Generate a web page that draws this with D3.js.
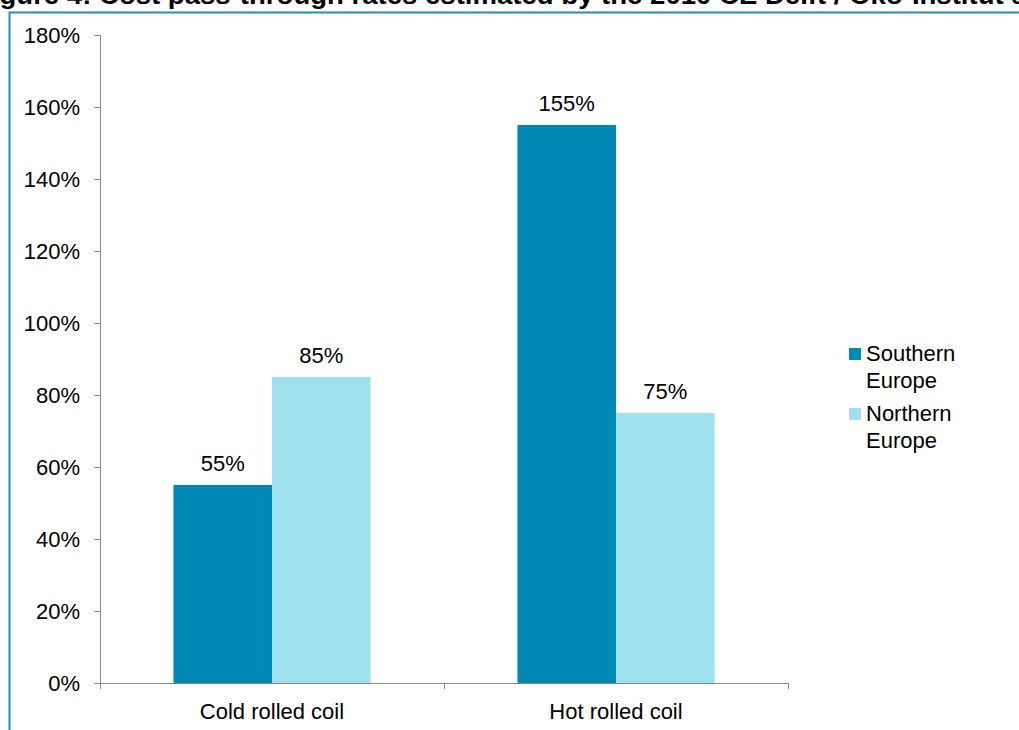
<!DOCTYPE html>
<html>
<head>
<meta charset="utf-8">
<script src="https://cdn.jsdelivr.net/npm/d3@7"></script>
<style>
  html, body { margin: 0; padding: 0; background: #fff; overflow: hidden; }
  svg { display: block; font-family: "Liberation Sans", Arial, sans-serif; }
</style>
</head>
<body>
<svg id="chart" width="1019" height="730"></svg>
<script>
// Cost pass-through rates by product and region
const categories = ["Cold rolled coil", "Hot rolled coil"];
const seriesNames = ["Southern Europe", "Northern Europe"];
const southern = [55, 155];
const northern = [85, 75];
const yTicks = [0, 20, 40, 60, 80, 100, 120, 140, 160, 180];
const colors = ["#0089B4", "#9EE0EC"];
const titleText = "Figure 4: Cost pass-through rates estimated by the 2010 CE Delft / Öko-Institut study";

const series = [southern, northern];
const FONT = 22;

const svg = d3.select("#chart");

// Title, partly cut off at the top edge
svg.append("text")
  .attr("transform", "translate(-25,4) scale(1.06,1)")
  .attr("font-weight", "bold")
  .attr("font-size", 26)
  .attr("fill", "#000")
  .text(titleText);

// Frame
svg.append("path")
  .attr("d", "M9.5,731 V12.5 H1030")
  .attr("fill", "none")
  .attr("stroke", "#1A8FC0")
  .attr("stroke-width", 2);

const plot = { left: 100, right: 788, top: 35, bottom: 683 };

const x = d3.scaleBand()
  .domain(categories)
  .range([plot.left, plot.right])
  .paddingInner(0)
  .paddingOuter(0);

const groupWidth = x.bandwidth() * 0.573;
const x1 = d3.scaleBand()
  .domain(d3.range(seriesNames.length))
  .range([0, groupWidth]);

const y = d3.scaleLinear()
  .domain([0, 180])
  .range([plot.bottom, plot.top]);

// Y axis
const yAxis = svg.append("g")
  .attr("transform", `translate(${plot.left},0)`)
  .call(d3.axisLeft(y).tickValues(yTicks).tickSize(6).tickPadding(14)
    .tickFormat(d => d + "%"));
yAxis.select(".domain").attr("stroke", "#898989").attr("d", `M0.5,${plot.top} V${plot.bottom}`);
yAxis.selectAll(".tick line").attr("stroke", "#898989");
yAxis.selectAll(".tick text")
  .attr("font-size", FONT)
  .attr("font-family", "Liberation Sans, Arial, sans-serif")
  .attr("fill", "#000");

// Bars with value labels
categories.forEach((cat, ci) => {
  const gx = x(cat) + (x.bandwidth() - groupWidth) / 2;
  series.forEach((vals, si) => {
    const v = vals[ci];
    svg.append("rect")
      .attr("x", gx + x1(si))
      .attr("y", y(v))
      .attr("width", x1.bandwidth())
      .attr("height", y(0) - y(v))
      .attr("fill", colors[si]);
    svg.append("text")
      .attr("x", gx + x1(si) + x1.bandwidth() / 2)
      .attr("y", y(v) - 14)
      .attr("text-anchor", "middle")
      .attr("font-size", FONT)
      .attr("fill", "#000")
      .text(v + "%");
  });
});

// X axis
const xAxisG = svg.append("g")
  .attr("transform", `translate(0,${plot.bottom})`);
xAxisG.append("line")
  .attr("x1", plot.left - 6).attr("x2", plot.right)
  .attr("y1", 0.5).attr("y2", 0.5)
  .attr("stroke", "#898989");
const boundaries = [plot.left, ...categories.map(c => x(c) + x.bandwidth())];
xAxisG.selectAll(".xtick").data(boundaries).join("line")
  .attr("x1", d => Math.round(d) + 0.5).attr("x2", d => Math.round(d) + 0.5)
  .attr("y1", 0).attr("y2", 6)
  .attr("stroke", "#898989");
xAxisG.selectAll(".xlabel").data(categories).join("text")
  .attr("x", d => x(d) + x.bandwidth() / 2)
  .attr("y", 36)
  .attr("text-anchor", "middle")
  .attr("font-size", FONT)
  .attr("fill", "#000")
  .text(d => d);

// Legend
const legend = svg.append("g").attr("transform", "translate(849,0)");
const legendTop = [346, 406];
seriesNames.forEach((name, i) => {
  const g = legend.append("g").attr("transform", `translate(0,${legendTop[i]})`);
  g.append("rect").attr("x", 0).attr("y", 2).attr("width", 12).attr("height", 12).attr("fill", colors[i]);
  const words = name.split(" ");
  g.append("text")
    .attr("x", 17)
    .attr("y", 15)
    .attr("font-size", FONT)
    .attr("fill", "#000")
    .selectAll("tspan").data(words).join("tspan")
    .attr("x", 17)
    .attr("dy", (d, k) => k === 0 ? 0 : 27)
    .text(d => d);
});
</script>
</body>
</html>
